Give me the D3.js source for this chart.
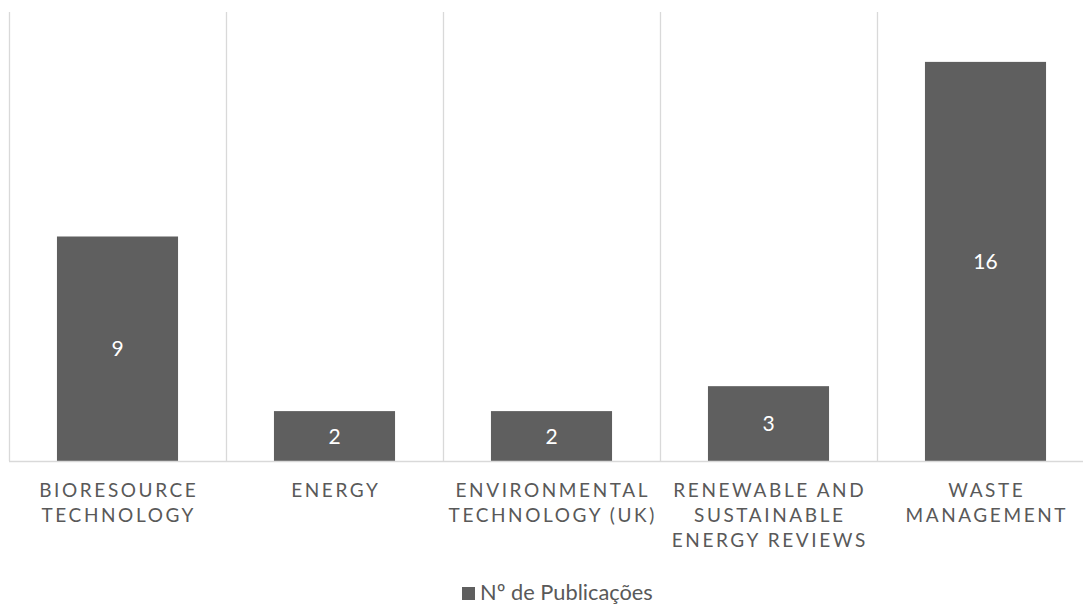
<!DOCTYPE html>
<html>
<head>
<meta charset="utf-8">
<script src="https://cdn.jsdelivr.net/npm/d3@7"></script>
<style>
  html, body { margin: 0; padding: 0; background: #ffffff; }
  svg { display: block; }
  text { font-family: Lato, "Open Sans", sans-serif; }
</style>
</head>
<body>
<svg id="chart" width="1083" height="605"></svg>
<script>
const categories = [
  "Bioresource Technology",
  "Energy",
  "Environmental Technology (UK)",
  "Renewable and Sustainable Energy Reviews",
  "Waste Management"
];
const tickLabelLines = [
  ["BIORESOURCE", "TECHNOLOGY"],
  ["ENERGY"],
  ["ENVIRONMENTAL", "TECHNOLOGY (UK)"],
  ["RENEWABLE AND", "SUSTAINABLE", "ENERGY REVIEWS"],
  ["WASTE", "MANAGEMENT"]
];
const publications = [9, 2, 2, 3, 16];
const seriesName = "Nº de Publicações";
const yDomain = [0, 18];

const svg = d3.select("#chart");
const plotLeft = 9, plotRight = 1094, plotTop = 12, plotBottom = 461;

const x = d3.scaleBand().domain(categories).range([plotLeft, plotRight]).padding(0);
const y = d3.scaleLinear().domain(yDomain).range([plotBottom, plotTop]);

const gridColor = "#d9d9d9";
const textColor = "#595959";
const barColor = "#5f5f5f";

// vertical category gridlines
const boundaries = categories.map(c => x(c)).concat([x(categories[categories.length - 1]) + x.bandwidth()]);
svg.append("g").selectAll("line").data(boundaries).join("line")
  .attr("x1", d => d + 0.5).attr("x2", d => d + 0.5)
  .attr("y1", plotTop).attr("y2", plotBottom)
  .attr("stroke", gridColor).attr("stroke-width", 1.3);

// bars
const barW = x.bandwidth() * 0.558;
svg.append("g").selectAll("rect").data(publications).join("rect")
  .attr("x", (d, i) => x(categories[i]) + (x.bandwidth() - barW) / 2)
  .attr("y", d => y(d))
  .attr("width", barW)
  .attr("height", d => y(0) - y(d))
  .attr("fill", barColor);

// baseline axis
const xAxis = d3.axisBottom(x).tickSize(0).tickFormat("");
const axisG = svg.append("g").attr("transform", `translate(0,${plotBottom + 0.5})`).call(xAxis);
axisG.select(".domain").attr("stroke", gridColor).attr("stroke-width", 1.6).attr("d", `M${plotLeft},0H${plotRight}`);

// tick labels
const lineH = 25;
const labelG = svg.append("g");
categories.forEach((c, i) => {
  const cx = x(c) + x.bandwidth() / 2 + 1.3;
  const t = labelG.append("text")
    .attr("x", cx)
    .attr("y", 496.5)
    .attr("text-anchor", "middle")
    .attr("fill", textColor)
    .attr("font-size", 19)
    .attr("letter-spacing", 2.6);
  tickLabelLines[i].forEach((ln, j) => {
    t.append("tspan").attr("x", cx).attr("dy", j === 0 ? 0 : lineH).text(ln);
  });
});

// data labels
svg.append("g").selectAll("text").data(publications).join("text")
  .attr("x", (d, i) => x(categories[i]) + x.bandwidth() / 2)
  .attr("y", d => (y(d) + y(0)) / 2)
  .attr("dy", "0.36em")
  .attr("text-anchor", "middle")
  .attr("fill", "#ffffff")
  .attr("font-size", 21)
  .text(d => d);

// legend
const lg = svg.append("g");
lg.append("rect").attr("x", 462).attr("y", 587).attr("width", 13).attr("height", 13).attr("fill", barColor);
lg.append("text").attr("x", 480).attr("y", 599.5).attr("fill", textColor).attr("font-size", 21.8).text(seriesName);
</script>
</body>
</html>
